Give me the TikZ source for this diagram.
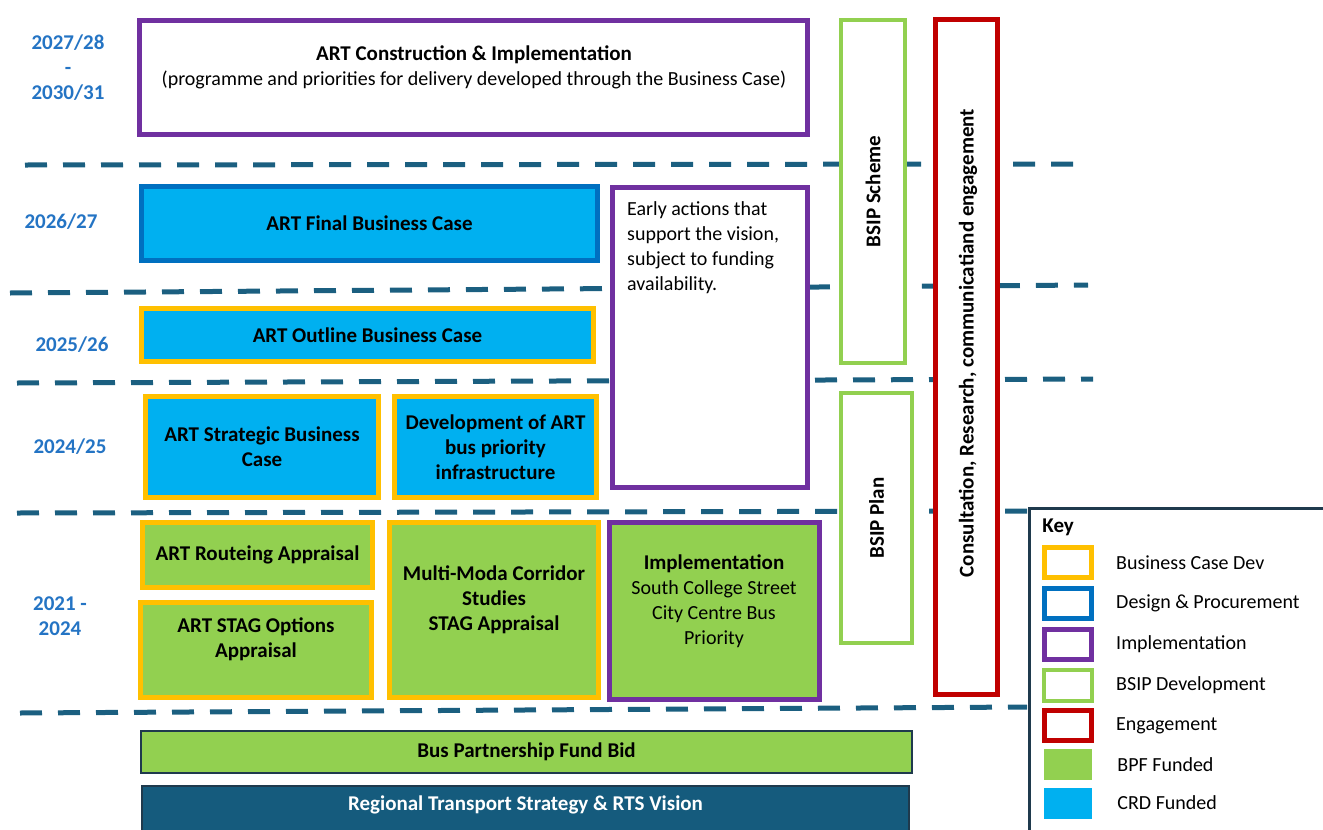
\documentclass[tikz,border=0pt]{standalone}
\usepackage{fontspec}
\setmainfont{Carlito}
\usepackage{tikz}
\usetikzlibrary{positioning}

\definecolor{artpurple}{HTML}{7030A0}
\definecolor{artcyan}{HTML}{00B0F0}
\definecolor{artblue}{HTML}{0070C0}
\definecolor{artyellow}{HTML}{FFC000}
\definecolor{artgreen}{HTML}{92D050}
\definecolor{artred}{HTML}{C00000}
\definecolor{yearblue}{HTML}{2474C4}
\definecolor{lineblue}{HTML}{1B5F80}
\definecolor{rtsteal}{HTML}{155B7D}
\definecolor{keynavy}{HTML}{1F3A4D}

\newcommand{\bfsz}{\fontsize{21}{25}\selectfont\bfseries}
\newcommand{\rgsz}{\fontsize{20}{25}\selectfont}

\tikzset{
  tbox/.style={rectangle, line width=5pt, inner sep=0pt, align=center, font=\bfsz},
  bcdev/.style={tbox, draw=artyellow},
  despro/.style={tbox, draw=artblue},
  implem/.style={tbox, draw=artpurple},
  bsipdev/.style={tbox, draw=artgreen, line width=4pt},
  engage/.style={tbox, draw=artred},
  basebar/.style={tbox, draw=keynavy, line width=2pt},
  bpf/.style={fill=artgreen},
  crd/.style={fill=artcyan},
  blank/.style={fill=white},
  yearlbl/.style={text=yearblue, font=\bfsz, align=center},
  yearline/.style={draw=lineblue, line width=5pt, dash pattern=on 22pt off 16pt},
  keytxt/.style={font=\rgsz, inner sep=0pt, anchor=west}
}

\begin{document}
\begin{tikzpicture}[x=1pt, y=-1pt]
  \useasboundingbox (0,0) rectangle (1323,830);
  \clip (0,0) rectangle (1323,830);

  % year separators
  \coordinate (L1a) at (25,165);  \coordinate (L1b) at (1076,164);
  \coordinate (L2a) at (10,293);  \coordinate (L2b) at (1088,285);
  \coordinate (L3a) at (17,383);  \coordinate (L3b) at (1093,379);
  \coordinate (L4a) at (17,513);  \coordinate (L4b) at (1027,511);
  \coordinate (L5a) at (20,713);  \coordinate (L5b) at (1027,707);
  \draw[yearline] (L1a) -- (L1b);
  \draw[yearline] (L2a) -- (L2b);
  \draw[yearline] (L3a) -- (L3b);
  \draw[yearline] (L4a) -- (L4b);
  \draw[yearline] (L5a) -- (L5b);

  % years
  \node[yearlbl] (Y1) at (68,68)    {2027/28\\-\\2030/31};
  \node[yearlbl] (Y2) at (61,222)   {2026/27};
  \node[yearlbl] (Y3) at (72,345)   {2025/26};
  \node[yearlbl] (Y4) at (70,447)   {2024/25};
  \node[yearlbl] (Y5) at (60,616.5) {2021 -\\2024};

  % 2027/28 - 2030/31
  \node[implem, blank, minimum width=668pt, minimum height=114pt] (Con) at (473.5,77.5) {};
  \node[align=center, font=\rgsz] (ConT) at (474,67)
    {{\bfsz ART Construction \& Implementation}\\(programme and priorities for delivery developed through the Business Case)};

  % 2026/27
  \node[despro, crd, minimum width=456pt, minimum height=74pt] (FBC) at (369.5,223.5) {ART Final Business Case};
  \node[implem, blank, minimum width=195pt, minimum height=300pt] (Early) at (710,337.5) {};
  \node[font=\rgsz, align=left, anchor=north west, inner sep=0pt] (EarlyT) at ([xshift=17pt,yshift=-16pt]Early.north west)
    {Early actions that\\support the vision,\\subject to funding\\availability.};

  % 2025/26
  \node[bcdev, crd, minimum width=452pt, minimum height=53pt] (OBC) at (367.5,335) {ART Outline Business Case};

  % 2024/25
  \node[bcdev, crd, minimum width=233pt, minimum height=101pt] (SBC) at (262,447) {ART Strategic Business\\Case};
  \node[bcdev, crd, minimum width=202pt, minimum height=101pt] (Dev) at (495.5,447) {Development of ART\\bus priority\\infrastructure};

  % 2021 - 2024
  \node[bcdev, bpf, minimum width=230pt, minimum height=65pt] (Route) at (257.5,555) {ART Routeing Appraisal};
  \node[bcdev, bpf, minimum width=231pt, minimum height=95pt] (STAG) at (256,650) {};
  \node[align=center, font=\bfsz] (STAGT) at (256,639) {ART STAG Options\\Appraisal};
  \node[bcdev, bpf, minimum width=209pt, minimum height=175pt] (Multi) at (494,610) {};
  \node[align=center, font=\bfsz] (MultiT) at (494,600) {Multi-Moda Corridor\\Studies\\STAG Appraisal};
  \node[implem, bpf, minimum width=210pt, minimum height=177pt] (Impl) at (714.5,611) {};
  \node[align=center, font=\rgsz] (ImplT) at (714,601)
    {{\bfsz Implementation}\\South College Street\\City Centre Bus\\Priority};

  % BSIP and engagement
  \node[bsipdev, blank, rotate=90, minimum width=343pt, minimum height=64pt] (BSIPS) at (873,191.5) {BSIP Scheme};
  \node[bsipdev, blank, rotate=90, minimum width=250pt, minimum height=71pt] (BSIPP) at (876.5,518) {BSIP Plan};
  \node[engage, blank, rotate=90, minimum width=675pt, minimum height=62pt] (Eng) at (966.5,357) {};
  \node[rotate=90, font=\bfsz] (EngT) at (968,343) {Consultation, Research, communicatiand engagement};

  % base
  \node[basebar, bpf, minimum width=771pt, minimum height=42pt] (BPF) at (526.5,752) {Bus Partnership Fund Bid};
  \node[basebar, fill=rtsteal, minimum width=767pt, minimum height=58pt] (RTS) at (525.5,815) {};
  \node[font=\bfsz, text=white] (RTST) at (525.5,805) {Regional Transport Strategy \& RTS Vision};

  % key
  \node[draw=keynavy, fill=white, line width=2.5pt, anchor=north west, minimum width=330pt, minimum height=340pt] (Key) at (1028.25,507.25) {};
  \node[font=\bfsz, anchor=north west, inner sep=0pt] (KeyT) at ([xshift=14pt,yshift=-11pt]Key.north west) {Key};
  \node[bcdev, blank, minimum width=47pt, minimum height=30pt] (K1) at (1068,562.5) {};
  \node[despro, blank, minimum width=47pt, minimum height=30pt, below=6pt of K1] (K2) {};
  \node[implem, blank, minimum width=47pt, minimum height=30pt, below=6pt of K2] (K3) {};
  \node[bsipdev, blank, minimum width=48pt, minimum height=31pt, below=6pt of K3] (K4) {};
  \node[engage, blank, minimum width=47pt, minimum height=30pt, below=5pt of K4] (K5) {};
  \node[bpf, minimum width=48pt, minimum height=31pt, inner sep=0pt, below=6pt of K5] (K6) {};
  \node[crd, minimum width=48pt, minimum height=31pt, inner sep=0pt, below=7pt of K6] (K7) {};
  \node[keytxt, right=22pt of K1] (K1T) {Business Case Dev};
  \node[keytxt, right=22pt of K2] (K2T) {Design \& Procurement};
  \node[keytxt, right=22pt of K3] (K3T) {Implementation};
  \node[keytxt, right=22pt of K4] (K4T) {BSIP Development};
  \node[keytxt, right=22pt of K5] (K5T) {Engagement};
  \node[keytxt, right=25pt of K6] (K6T) {BPF Funded};
  \node[keytxt, right=25pt of K7] (K7T) {CRD Funded};
\end{tikzpicture}
\end{document}
